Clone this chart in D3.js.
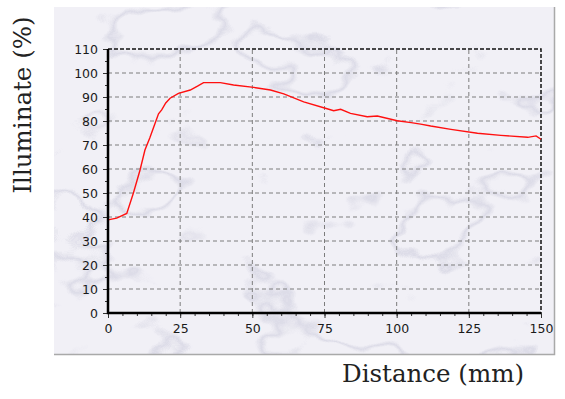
<!DOCTYPE html>
<html>
<head>
<meta charset="utf-8">
<script src="https://cdn.jsdelivr.net/npm/d3@7"></script>
<style>
  body { margin: 0; background: #ffffff; }
  svg { display: block; }
</style>
</head>
<body>
<svg class="chart" width="565" height="399"></svg>
<script>
// distance in mm, illuminate in %
var distance = [0, 3, 6.5, 8.8, 11.1, 12.8, 14.5, 16, 17.5, 18.6, 20, 21.5, 24.4, 28.5, 31, 33.1,
    38.9, 43.5, 50.5, 56.3, 60.9, 67.8, 75.3, 78.2, 80.6, 84, 89.8, 93.3, 100.2, 105, 108.3,
    111.8, 118.8, 128, 136.1, 145.4, 148.3, 150];
var illuminate = [38.8, 39.5, 41.5, 50, 59.6, 67.9, 73, 78, 83, 84.6, 87.5, 89.5, 91.5, 92.9, 94.5, 96,
    96, 95, 94, 92.9, 91.3, 88, 85.3, 84.3, 84.9, 83.2, 81.8, 82.1, 80.1, 79.3, 78.7,
    77.9, 76.5, 74.9, 74, 73.2, 73.8, 72.4];
var xTicks = [0, 25, 50, 75, 100, 125, 150];
var yTicks = [0, 10, 20, 30, 40, 50, 60, 70, 80, 90, 100, 110];

var svg = d3.select(".chart");

// marble panel: thin veins from noise contours
var defs = svg.append("defs");
var f = defs.append("filter").attr("id", "marble")
    .attr("x", 0).attr("y", 0).attr("width", "100%").attr("height", "100%");
f.append("feTurbulence").attr("type", "fractalNoise")
    .attr("baseFrequency", "0.008 0.012").attr("numOctaves", 4).attr("seed", 11).attr("result", "noise");
f.append("feColorMatrix").attr("in", "noise").attr("type", "matrix")
    .attr("values", "0 0 0 0 0.52  0 0 0 0 0.52  0 0 0 0 0.66  1 0 0 0 0")
    .attr("result", "tone");
var ct = f.append("feComponentTransfer").attr("in", "tone").attr("result", "veins");
ct.append("feFuncA").attr("type", "table")
    .attr("tableValues", "0 0 0 0 0 0 0 0 0 0.45 0 0 0 0 0 0 0 0 0 0.3 0 0 0 0 0");
f.append("feGaussianBlur").attr("in", "veins").attr("stdDeviation", 0.6).attr("result", "soft");
f.append("feFlood").attr("flood-color", "#f1f0f6").attr("result", "base");
f.append("feComposite").attr("in", "soft").attr("in2", "base").attr("operator", "over");

svg.append("rect")
    .attr("x", 54).attr("y", 7).attr("width", 501).attr("height", 348)
    .attr("filter", "url(#marble)");
svg.append("path")
    .attr("d", "M54,354.5 H554.5 V7")
    .attr("fill", "none").attr("stroke", "#a9a9a9").attr("stroke-width", 1.5);

var margin = { left: 108, top: 49, right: 541, bottom: 313 };

var x = d3.scaleLinear().domain([0, 150]).range([margin.left, margin.right]);
var y = d3.scaleLinear().domain([0, 110]).range([margin.bottom, margin.top]);

var g = svg.append("g");

// grid
g.selectAll(".vgrid")
    .data(xTicks.filter(d => d > 0 && d < 150))
    .enter().append("line")
    .attr("x1", d => x(d)).attr("x2", d => x(d))
    .attr("y1", y(0)).attr("y2", y(110))
    .attr("stroke", "#7c7c7c").attr("stroke-dasharray", "4,3");
g.selectAll(".hgrid")
    .data(yTicks.filter(d => d > 0 && d < 110))
    .enter().append("line")
    .attr("x1", x(0)).attr("x2", x(150))
    .attr("y1", d => y(d)).attr("y2", d => y(d))
    .attr("stroke", "#7c7c7c").attr("stroke-dasharray", "4,3");

// top and right border, dashed black
g.append("path")
    .attr("d", "M" + x(0) + "," + y(110) + "H" + x(150) + "V" + y(0))
    .attr("fill", "none").attr("stroke", "#111").attr("stroke-width", 1.5)
    .attr("stroke-dasharray", "4,2");

// curve
var line = d3.line()
    .x((d, i) => x(distance[i]))
    .y((d, i) => y(illuminate[i]));
g.append("path")
    .datum(illuminate)
    .attr("d", line)
    .attr("fill", "none")
    .attr("stroke", "#ff1010")
    .attr("stroke-width", 1.4);

// axes
var xAxis = d3.axisBottom(x).tickValues(xTicks).tickSize(5).tickPadding(6);
svg.append("g")
    .attr("transform", "translate(0," + y(0) + ")")
    .call(xAxis);
var xMinor = d3.axisBottom(x).tickValues(d3.range(0, 151, 5)).tickSize(3).tickFormat("");
svg.append("g").attr("transform", "translate(0," + y(0) + ")").call(xMinor);

var yAxis = d3.axisLeft(y).tickValues(yTicks).tickSize(5).tickPadding(5);
svg.append("g")
    .attr("transform", "translate(" + x(0) + ",0)")
    .call(yAxis);
var yMinor = d3.axisLeft(y).tickValues(d3.range(0, 111, 5)).tickSize(3).tickFormat("");
svg.append("g").attr("transform", "translate(" + x(0) + ",0)").call(yMinor);

svg.selectAll(".domain").remove();
svg.selectAll(".tick line").attr("stroke", "#333");
svg.selectAll(".tick text")
    .style("font-family", "'DejaVu Sans', sans-serif")
    .style("font-size", "12.5px")
    .attr("fill", "#1a1a1a");

// solid left and bottom axis lines
svg.append("path")
    .attr("d", "M" + x(0) + "," + y(110) + "V" + y(0) + "H" + x(150))
    .attr("fill", "none").attr("stroke", "#000").attr("stroke-width", 2.5);

// titles
svg.append("text")
    .attr("x", 433).attr("y", 382)
    .attr("text-anchor", "middle")
    .style("font-family", "'DejaVu Serif', serif")
    .style("font-size", "24.5px")
    .attr("fill", "#222")
    .text("Distance (mm)");

svg.append("text")
    .attr("transform", "translate(31,105) rotate(-90)")
    .attr("text-anchor", "middle")
    .style("font-family", "'DejaVu Serif', serif")
    .style("font-size", "24.5px")
    .attr("fill", "#222")
    .text("Illuminate (%)");
</script>
</body>
</html>
